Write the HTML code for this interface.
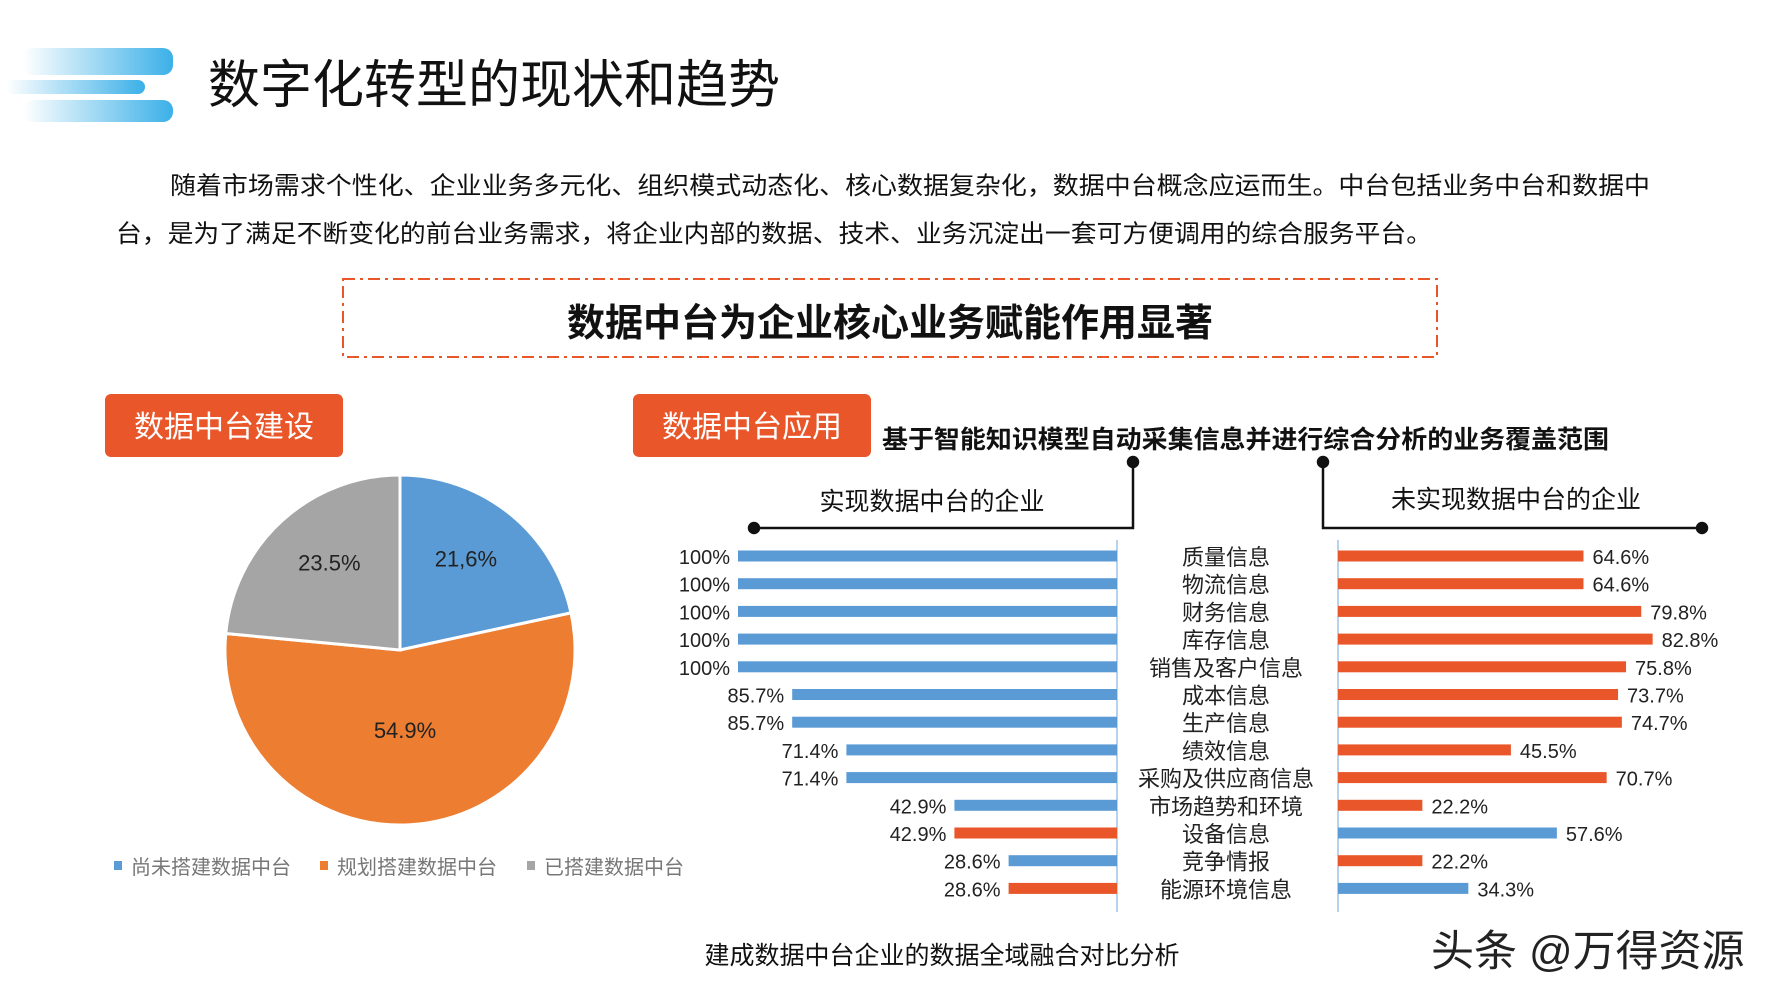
<!DOCTYPE html>
<html><head><meta charset="utf-8">
<style>
html,body{margin:0;padding:0;background:#fff;}
body{width:1778px;height:1000px;position:relative;overflow:hidden;font-family:"Liberation Sans","Noto Sans CJK SC",sans-serif;}
svg{position:absolute;left:0;top:0;}
</style></head>
<body>
<svg width="1778" height="1000" viewBox="0 0 1778 1000" font-family="Liberation Sans, Noto Sans CJK SC, sans-serif">
<defs>
<linearGradient id="lg" x1="0" x2="1" y1="0" y2="0">
<stop offset="0" stop-color="#3bb0e8" stop-opacity="0"/>
<stop offset="1" stop-color="#3bb0e8"/>
</linearGradient>
</defs>
<g>
<rect x="23" y="48" width="150" height="27" rx="10" fill="url(#lg)"/>
<rect x="6" y="80" width="139" height="14" rx="7" fill="url(#lg)"/>
<rect x="23" y="100" width="150" height="22" rx="10" fill="url(#lg)"/>
</g>
<text x="208" y="103" font-size="52" fill="#111">数字化转型的现状和趋势</text>
<text x="170" y="194" font-size="24.5" fill="#111" textLength="1480" lengthAdjust="spacingAndGlyphs">随着市场需求个性化、企业业务多元化、组织模式动态化、核心数据复杂化，数据中台概念应运而生。中台包括业务中台和数据中</text>
<text x="116" y="242" font-size="24.5" fill="#111" textLength="1316" lengthAdjust="spacingAndGlyphs">台，是为了满足不断变化的前台业务需求，将企业内部的数据、技术、业务沉淀出一套可方便调用的综合服务平台。</text>
<rect x="343" y="279" width="1094" height="78" fill="none" stroke="#e8562a" stroke-width="2" stroke-dasharray="12,5,3,5"/>
<text x="890" y="336" font-size="38" font-weight="bold" fill="#111" text-anchor="middle">数据中台为企业核心业务赋能作用显著</text>

<g>
<rect x="105" y="394" width="238" height="63" rx="6" fill="#e8562a"/>
<text x="224" y="437" font-size="30" fill="#fff" text-anchor="middle">数据中台建设</text>
</g>
<g>
<rect x="633" y="394" width="238" height="63" rx="6" fill="#e8562a"/>
<text x="752" y="437" font-size="30" fill="#fff" text-anchor="middle">数据中台应用</text>
</g>
<text x="882" y="448" font-size="25" font-weight="bold" fill="#111" textLength="727" lengthAdjust="spacingAndGlyphs">基于智能知识模型自动采集信息并进行综合分析的业务覆盖范围</text>

<g stroke="#111" stroke-width="2.5" fill="none">
<polyline points="754,528 1133,528 1133,462"/>
<circle cx="754" cy="528" r="5" fill="#111"/><circle cx="1133" cy="462" r="5" fill="#111"/>
</g>
<g stroke="#111" stroke-width="2.5" fill="none">
<polyline points="1323,462 1323,528 1702,528"/>
<circle cx="1323" cy="462" r="5" fill="#111"/><circle cx="1702" cy="528" r="5" fill="#111"/>
</g>
<text x="932" y="510" font-size="25" fill="#111" text-anchor="middle">实现数据中台的企业</text>
<text x="1516" y="508" font-size="25" fill="#111" text-anchor="middle">未实现数据中台的企业</text>

<g id="pie"></g>
<g id="bars"></g>

<g font-size="20" fill="#777">
<rect x="114" y="861" width="8" height="9" fill="#5b9bd5"/><text x="131" y="874">尚未搭建数据中台</text>
<rect x="320" y="861" width="8" height="9" fill="#ed7d31"/><text x="337" y="874">规划搭建数据中台</text>
<rect x="527" y="861" width="8" height="9" fill="#a5a5a5"/><text x="544" y="874">已搭建数据中台</text>
</g>
<text x="942" y="964" font-size="25" fill="#111" text-anchor="middle">建成数据中台企业的数据全域融合对比分析</text>
<text x="1431" y="966" font-size="43" fill="#222">头条 @万得资源</text>
</svg>
<script>
const pieLabels = ['21,6%','54.9%','23.5%'];
const pieValues = [21.6, 54.9, 23.5];
const pieColors = ['#5b9bd5','#ed7d31','#a5a5a5'];

const categories = ['质量信息','物流信息','财务信息','库存信息','销售及客户信息','成本信息','生产信息','绩效信息','采购及供应商信息','市场趋势和环境','设备信息','竞争情报','能源环境信息'];
const leftValues = [100,100,100,100,100,85.7,85.7,71.4,71.4,42.9,42.9,28.6,28.6];
const leftSeries = ['b','b','b','b','b','b','b','b','b','b','o','b','o'];
const rightValues = [64.6,64.6,79.8,82.8,75.8,73.7,74.7,45.5,70.7,22.2,57.6,22.2,34.3];
const rightSeries = ['o','o','o','o','o','o','o','o','o','o','b','o','b'];

const NS='http://www.w3.org/2000/svg';
function mk(tag, attrs, parent){const e=document.createElementNS(NS,tag);for(const k in attrs)e.setAttribute(k,attrs[k]);parent.appendChild(e);return e;}

// pie
const pie=document.getElementById('pie');
const cx=400, cy=650, R=175;
const total=pieValues.reduce((a,b)=>a+b,0);
let a0=0;
pieValues.forEach((v,i)=>{
  const a1=a0+v/total*2*Math.PI;
  const p=(a)=>[cx+R*Math.sin(a), cy-R*Math.cos(a)];
  const [x0,y0]=p(a0),[x1,y1]=p(a1);
  const path=mk('path',{d:`M${cx},${cy} L${x0},${y0} A${R},${R} 0 ${a1-a0>Math.PI?1:0} 1 ${x1},${y1} Z`,fill:pieColors[i],stroke:'#fff','stroke-width':3},pie);
  
  
  const am=(a0+a1)/2, rr=i===1?0.48:0.6;
  const t=mk('text',{x:cx+R*rr*Math.sin(am), y:cy-R*rr*Math.cos(am)+(i===1?4:-2),'font-size':22,fill:'#222','text-anchor':'middle'},pie);
  t.textContent=pieLabels[i];
  
  
  a0=a1;
});

// bars
const bars=document.getElementById('bars');
const axisL=1117, axisR=1338, top0=556, step=27.7, bh=11;
const sL=3.79, sR=3.8;
const yRow=i=>top0+i*step;
const col=s=>s==='o'?'#e8562a':'#5b9bd5';
const la=mk('line',{x1:axisL,y1:540,x2:axisL,y2:912,stroke:'#9dc3e6','stroke-width':1.5},bars);


const ra=mk('line',{x1:axisR,y1:540,x2:axisR,y2:912,stroke:'#9dc3e6','stroke-width':1.5},bars);


categories.forEach((c,i)=>{
  const y=yRow(i);
  const wl=leftValues[i]*sL;
  const bl=mk('rect',{x:axisL-wl,y:y-bh/2,width:wl,height:bh,fill:col(leftSeries[i])},bars);
  
  
  const tl=mk('text',{x:axisL-wl-8,y:y+8,'font-size':20,fill:'#222','text-anchor':'end'},bars);
  tl.textContent=leftValues[i]+'%';
  
  
  const wr=rightValues[i]*sR;
  const br=mk('rect',{x:axisR,y:y-bh/2,width:wr,height:bh,fill:col(rightSeries[i])},bars);
  
  
  const tr=mk('text',{x:axisR+wr+9,y:y+8,'font-size':20,fill:'#222'},bars);
  tr.textContent=rightValues[i]+'%';
  
  
  const tc=mk('text',{x:1226,y:y+9,'font-size':22,fill:'#222','text-anchor':'middle'},bars);
  tc.textContent=c;
  
  
});
</script>
</body></html>
